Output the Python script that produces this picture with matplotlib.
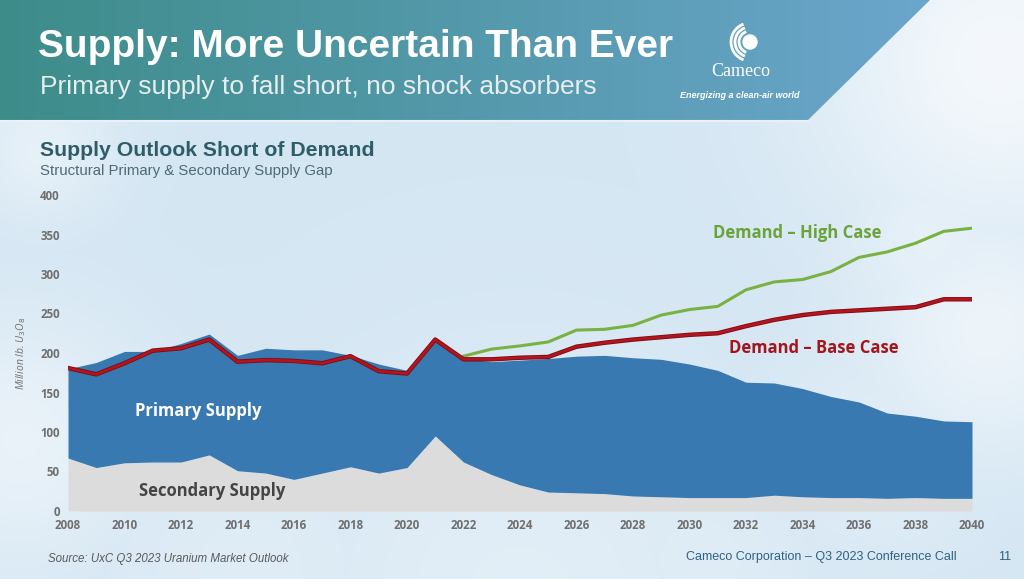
import numpy as np
import matplotlib
matplotlib.use("Agg")
import matplotlib.pyplot as plt
import matplotlib.patheffects as pe
from matplotlib.patches import Polygon, Arc, Circle

# data (million lb U3O8)
years = list(range(2008, 2041))
secondary = [67, 55, 61, 62, 62, 71, 51, 48, 40, 48, 56, 48, 55, 95, 62, 46, 33,
             24, 23, 22, 19, 18, 17, 17, 17, 20, 18, 17, 17, 16, 17, 16, 16]
total_supply = [180, 188, 202, 202, 212, 224, 197, 206, 204, 204, 197, 186, 178,
                218, 193, 189, 191, 193, 196, 197, 194, 192, 186, 178, 163, 162,
                155, 145, 138, 124, 120, 114, 113]
demand_base = [181, 173, 187, 203, 206, 217, 189, 191, 190, 187, 196, 177, 174,
               217, 192, 192, 194, 195, 208, 213, 217, 220, 223, 225, 234, 242,
               248, 252, 254, 256, 258, 268, 268]
high_years = list(range(2022, 2041))
demand_high = [196, 205, 209, 214, 229, 230, 235, 248, 255, 259, 280, 290, 293,
               303, 321, 328, 339, 354, 358]

x_ticks = list(range(2008, 2041, 2))
y_ticks = list(range(0, 401, 50))

W, H = 1024, 579
fig = plt.figure(figsize=(W / 100, H / 100), dpi=100)

# background: sky with soft clouds
bg = fig.add_axes([0, 0, 1, 1])
bg.set_xlim(0, W)
bg.set_ylim(H, 0)
bg.axis("off")
yy, xx = np.mgrid[0:H, 0:W]
base = np.array([0.835, 0.905, 0.955])
img = np.ones((H, W, 3)) * base
white = np.zeros((H, W))
for cx, cy, r, a in [(1000, 60, 130, 0.9), (990, 330, 90, 0.7), (930, 240, 70, 0.5),
                     (20, 440, 90, 0.6), (40, 150, 50, 0.5), (520, 600, 160, 0.4),
                     (700, 560, 90, 0.3), (250, 570, 120, 0.3), (880, 450, 80, 0.35)]:
    white = np.maximum(white, a * np.exp(-((xx - cx) ** 2 + (yy - cy) ** 2) / (2 * r ** 2)))
img = img * (1 - white[..., None]) + white[..., None] * np.array([0.97, 0.98, 0.99])
bg.imshow(img, extent=(0, W, H, 0), aspect="auto", zorder=0)

# header banner with gradient
grad = np.linspace(0, 1, 400)
c1 = np.array([0.24, 0.55, 0.54])
c2 = np.array([0.42, 0.65, 0.80])
band = (c1[None, :] * (1 - grad[:, None]) + c2[None, :] * grad[:, None])[None, :, :]
im = bg.imshow(band, extent=(0, 930, 120, 0), aspect="auto", zorder=1)
clip = Polygon([[0, 0], [930, 0], [808, 120], [0, 120]], closed=True,
               transform=bg.transData, facecolor="none", edgecolor="none")
bg.add_patch(clip)
im.set_clip_path(clip)
bg.plot([0, 808], [121, 121], color="#e8f2f8", lw=1.5, zorder=2)

narrow = ["Liberation Sans Narrow", "Liberation Sans"]
bg.text(38, 47, "Supply: More Uncertain Than Ever", color="white", fontsize=28,
        fontweight="bold", family=narrow, va="center", ha="left", zorder=3)
bg.text(40, 87, "Primary supply to fall short, no shock absorbers", color="#e6eef0",
        fontsize=19, family=narrow, va="center", ha="left", zorder=3)

# logo
lc = (750, 42)
bg.add_patch(Circle(lc, 7, color="white", zorder=3))
for r in [11, 15, 19]:
    bg.add_patch(Arc(lc, 2 * r, 2 * r, theta1=110, theta2=250, color="white", lw=2, zorder=3))
bg.text(741, 72, "Cameco", color="white", fontsize=13, family="Liberation Serif",
        ha="center", va="center", zorder=3)
bg.text(740, 96, "Energizing a clean-air world", color="white", fontsize=6.5,
        fontweight="bold", style="italic", family=narrow,
        ha="center", va="center", zorder=3)

# chart titles
bg.text(40, 151, "Supply Outlook Short of Demand", color="#2e5d68", fontsize=15.3,
        fontweight="bold", family="Liberation Sans", va="center", ha="left", zorder=3)
bg.text(40, 171, "Structural Primary & Secondary Supply Gap", color="#4d6b76",
        fontsize=10.8, family="Liberation Sans", va="center", ha="left", zorder=3)

# footer
bg.text(48, 559, "Source: UxC Q3 2023 Uranium Market Outlook", color="#5a5a5a",
        fontsize=8.3, style="italic", family=narrow,
        va="center", ha="left", zorder=3)
bg.text(957, 557, "Cameco Corporation \u2013 Q3 2023 Conference Call", color="#2f6283",
        fontsize=9, family=narrow, va="center", ha="right", zorder=3)
bg.text(1005, 557, "11", color="#2f6283", fontsize=9, family=narrow,
        va="center", ha="center", zorder=3)

# main chart
ax = fig.add_axes([68 / W, (H - 511) / H, (972 - 68) / W, (511 - 195) / H])
ax.patch.set_alpha(0)
ax.fill_between(years, 0, secondary, color="#dcdcdc", lw=0)
ax.fill_between(years, secondary, total_supply, color="#3779b0", lw=0)
ax.plot(high_years, demand_high, color="#79b143", lw=2.2, solid_joinstyle="round")
ax.plot(years, demand_base, color="#b3141d", lw=2.0, solid_joinstyle="round",
        path_effects=[pe.Stroke(linewidth=3.2, foreground="#7a0c12"), pe.Normal()])

ax.set_xlim(2008, 2040)
ax.set_ylim(0, 400)
ax.set_xticks(x_ticks)
ax.set_yticks(y_ticks)
ax.tick_params(length=0, labelsize=8.3, labelcolor="#6f6f6f", pad=6)
for lab in ax.get_xticklabels() + ax.get_yticklabels():
    lab.set_fontweight("bold")
    lab.set_family("Open Sans")
for s in ax.spines.values():
    s.set_visible(False)
ax.set_ylabel("Million lb. U$_3$O$_8$", fontsize=7.5, style="italic", color="#707070",
              labelpad=9)
ax.yaxis.label.set_family("Open Sans")

lab_font = dict(fontsize=12, fontweight="bold", family="Open Sans", va="center")
ax.text(2012.6, 127, "Primary Supply", color="white", ha="center", **lab_font)
ax.text(2013.1, 25, "Secondary Supply", color="#444444", ha="center", **lab_font)
ax.text(2033.8, 352, "Demand \u2013 High Case", color="#6aa33a", ha="center", **lab_font)
ax.text(2034.4, 206, "Demand \u2013 Base Case", color="#a3151c", ha="center", **lab_font)

fig.savefig("out.png", dpi=100)
